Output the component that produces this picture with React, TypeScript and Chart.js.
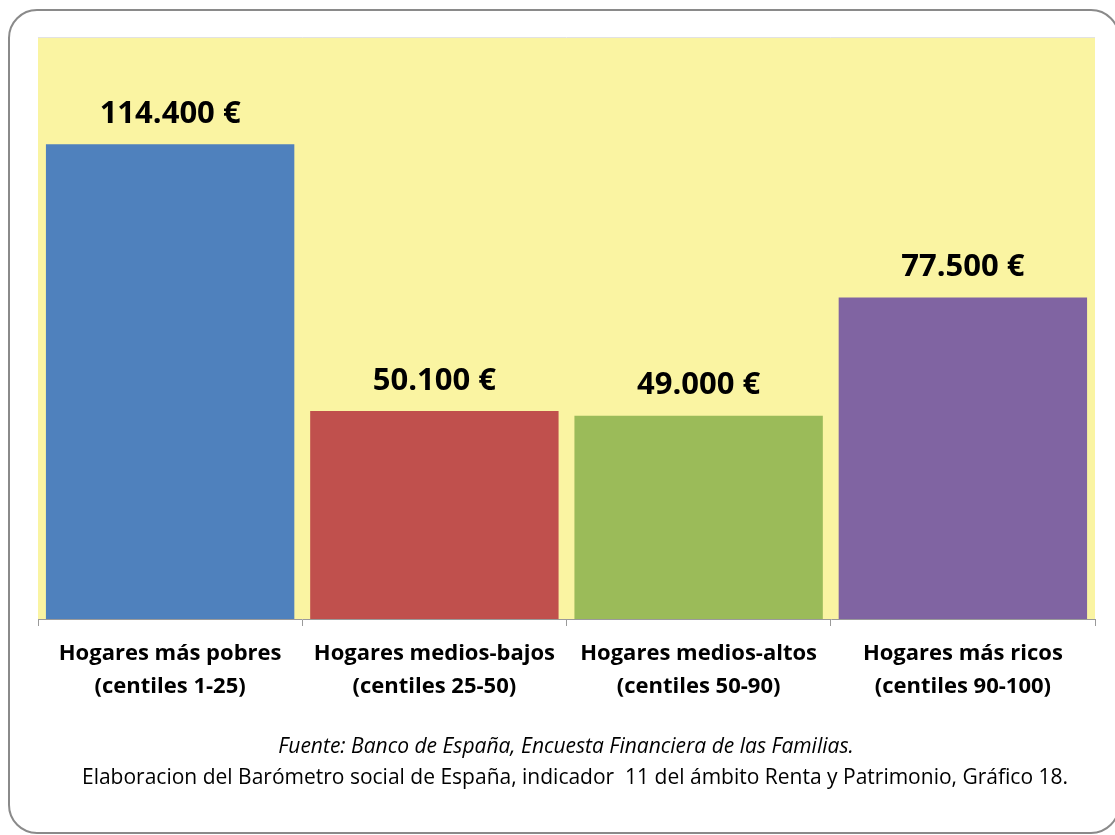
import React, { useEffect, useRef } from "react";
import { Chart, registerables } from "chart.js";

Chart.register(...registerables);

const categories: string[][] = [
  ["Hogares más pobres", "(centiles 1-25)"],
  ["Hogares medios-bajos", "(centiles 25-50)"],
  ["Hogares medios-altos", "(centiles 50-90)"],
  ["Hogares más ricos", "(centiles 90-100)"],
];
const values: number[] = [114400, 50100, 49000, 77500];
const barColors: string[] = ["#4F81BD", "#C0504D", "#9BBB59", "#8064A2"];
const sourceLine = "Fuente: Banco de España, Encuesta Financiera de las Familias.";
const creditLine =
  "Elaboracion del Barómetro social de España, indicador  11 del ámbito Renta y Patrimonio, Gráfico 18.";

const FONT = "'Open Sans', Lato, sans-serif";

function fmt(v: number): string {
  const s = Math.round(v).toString();
  return s.replace(/\B(?=(\d{3})+(?!\d))/g, ".") + " €";
}

const decorPlugin = {
  id: "decor",
  beforeDraw(chart: any) {
    const { ctx, chartArea } = chart;
    ctx.save();
    ctx.fillStyle = "#ffffff";
    ctx.fillRect(0, 0, chart.width, chart.height);
    // outer rounded frame
    ctx.strokeStyle = "#8a8a8a";
    ctx.lineWidth = 2;
    ctx.beginPath();
    ctx.roundRect(9, 10, 1110, 823, 28);
    ctx.stroke();
    // plot background
    ctx.fillStyle = "#FAF4A2";
    ctx.fillRect(chartArea.left, chartArea.top, chartArea.right - chartArea.left, chartArea.bottom - chartArea.top);
    ctx.strokeStyle = "#e2e2e2";
    ctx.lineWidth = 1;
    ctx.beginPath();
    ctx.moveTo(chartArea.left, chartArea.top - 0.5);
    ctx.lineTo(chartArea.right, chartArea.top - 0.5);
    ctx.stroke();
    ctx.restore();
  },
  afterDatasetsDraw(chart: any) {
    const { ctx } = chart;
    const meta = chart.getDatasetMeta(0);
    ctx.save();
    ctx.fillStyle = "#000";
    ctx.font = `bold 31px ${FONT}`;
    ctx.textAlign = "center";
    ctx.textBaseline = "middle";
    meta.data.forEach((bar: any, i: number) => {
      ctx.fillText(fmt(values[i]), bar.x, bar.y - 30);
    });
    ctx.restore();
  },
  afterDraw(chart: any) {
    const { ctx } = chart;
    ctx.save();
    ctx.fillStyle = "#000";
    ctx.textAlign = "center";
    ctx.textBaseline = "middle";
    ctx.font = `italic 21px ${FONT}`;
    ctx.fillText(sourceLine, 566, 747);
    ctx.font = `21px ${FONT}`;
    ctx.fillText(creditLine, 575, 778);
    ctx.restore();
  },
};

export default function App() {
  const ref = useRef<HTMLCanvasElement | null>(null);
  useEffect(() => {
    if (!ref.current) return;
    const chart = new Chart(ref.current, {
      type: "bar",
      data: {
        labels: categories,
        datasets: [
          {
            data: values,
            backgroundColor: barColors,
            borderWidth: 0,
            barPercentage: 0.94,
            categoryPercentage: 1,
          },
        ],
      },
      options: {
        animation: false,
        responsive: false,
        maintainAspectRatio: false,
        layout: { padding: { left: 38, right: 20, top: 38, bottom: 136 } },
        plugins: {
          legend: { display: false },
          tooltip: { enabled: false },
        },
        scales: {
          x: {
            grid: {
              offset: true,
              drawOnChartArea: false,
              drawTicks: true,
              tickLength: 7,
              color: "#9a9a9a",
            },
            border: { display: true, color: "#9a9a9a", width: 1 },
            ticks: {
              color: "#000",
              font: { family: FONT, size: 22, weight: "bold", lineHeight: 1.5 },
              padding: 11,
              maxRotation: 0,
              autoSkip: false,
            },
            afterFit: (s: any) => {
              s.height = 80;
            },
          },
          y: {
            display: false,
            min: 0,
            max: 140000,
          },
        },
      },
      plugins: [decorPlugin],
    });
    return () => chart.destroy();
  }, []);
  return (
    <div style={{ position: "absolute", left: 0, top: 0, width: 1115, height: 835 }}>
      <canvas ref={ref} width={1115} height={835} style={{ width: 1115, height: 835, display: "block" }} />
    </div>
  );
}
